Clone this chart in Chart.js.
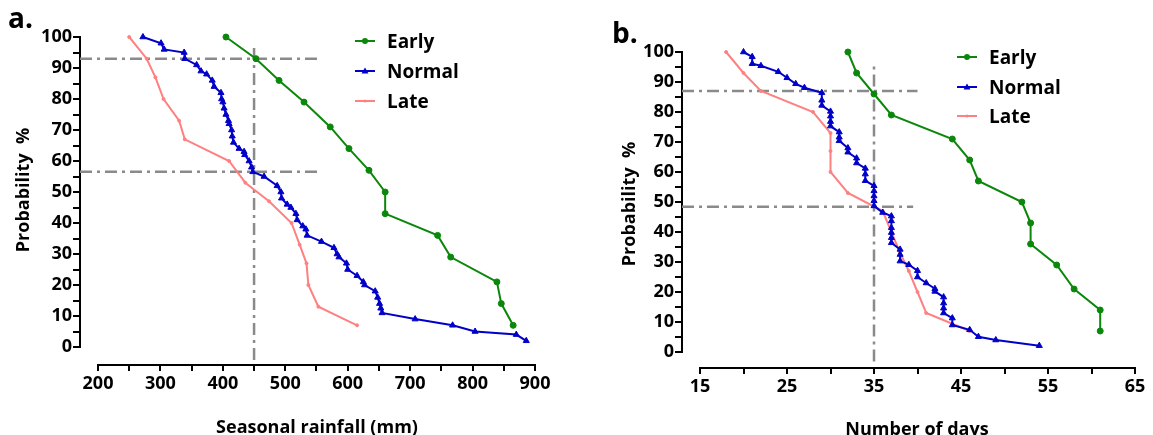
<!DOCTYPE html>
<html>
<head>
<meta charset="utf-8">
<script src="https://cdn.jsdelivr.net/npm/chart.js@4.4.0/dist/chart.umd.min.js"></script>
<style>
  body { margin: 0; background: #fff; width: 1153px; height: 435px; position: relative; overflow: hidden;
         font-family: 'Open Sans', sans-serif; font-weight: bold; color: #000; }
  canvas { position: absolute; top: 0; }
  .txt { position: absolute; white-space: pre; line-height: 1; }
  .rot { transform: translate(-50%, -50%) rotate(-90deg); }
  .leg { position: absolute; display: flex; align-items: center; font-size: 19px; line-height: 1; }
  .leg svg { margin-right: 12px; }
</style>
</head>
<body>
<canvas id="chartA" width="580" height="435" style="left:0"></canvas>
<canvas id="chartB" width="573" height="435" style="left:580px"></canvas>

<div class="txt" style="left:8px;top:3px;font-size:28px">a.</div>
<div class="txt" style="left:612px;top:18px;font-size:28px">b.</div>
<div class="txt rot" style="left:22px;top:190px;font-size:18px">Probability  %</div>
<div class="txt rot" style="left:628px;top:204px;font-size:18px">Probability  %</div>
<div class="txt" style="left:317px;top:417px;font-size:18px;transform:translateX(-50%)">Seasonal rainfall (mm)</div>
<div class="txt" style="left:917px;top:419px;font-size:18px;transform:translateX(-50%)">Number of days</div>

<div id="legA"></div>
<div id="legB"></div>

<script>
// panel a: seasonal rainfall (mm) vs probability (%)
var earlyRain = [405, 453, 490, 530, 572, 602, 634, 660, 660, 744, 765, 839, 846, 865];
var earlyProb = [100, 93, 86, 79, 71, 64, 57, 50, 43, 36, 29, 21, 14, 7];
var normalRain = [272, 301, 306, 338, 339, 358, 365, 374, 383, 386, 397, 398, 400, 402, 405,
                  409, 410, 414, 415, 417, 426, 434, 435, 442, 446, 448, 466, 487, 493, 494,
                  503, 509, 517, 519, 528, 533, 535, 558, 578, 583, 586, 598, 600, 615, 625,
                  627, 644, 648, 651, 653, 655, 708, 768, 804, 870, 886];
var normalProbA = [100, 98, 96, 95, 93, 91, 89, 88, 86, 84, 82, 80, 79, 77, 75,
                   73, 72, 70, 68, 66, 64, 63, 62, 60, 58, 56.5, 55, 52, 50, 48,
                   46, 45, 43, 41, 39, 38, 36, 34, 32, 30, 29, 27, 25, 23, 21,
                   20, 18, 16, 14, 12.5, 11, 9, 7, 5, 4, 2];
var lateRain = [250, 278, 292, 305, 330, 339, 410, 436, 474, 510, 523, 534, 537, 553, 615];
var lateProb = [100, 93, 87, 80, 73, 67, 60, 53, 47, 40, 33, 27, 20, 13, 7];

// panel b: number of days vs probability (%)
var earlyDays = [32, 33, 35, 37, 44, 46, 47, 52, 53, 53, 56, 58, 61, 61];
var normalDays = [20, 21, 21, 22, 24, 25, 26, 27, 29, 29, 29, 30, 30, 30, 30,
                  31, 31, 31, 32, 32, 33, 33, 34, 34, 34, 35, 35, 35, 35, 35,
                  36, 37, 37, 37, 37, 37, 37, 38, 38, 38, 39, 40, 40, 41, 42,
                  42, 43, 43, 43, 43, 44, 44, 46, 47, 49, 54];
var normalProbB = [100, 98.4, 96.1, 95.4, 93.4, 91.4, 89.4, 88.1, 86.4, 83.9, 82.2, 80.2, 78.6, 76.8, 75.3,
                   73.3, 71.6, 70.4, 68, 66.6, 64.6, 63, 61.2, 59.3, 57.1, 55.4, 53.7, 52, 50.4, 48.7,
                   46.5, 45.3, 43.7, 41.4, 39.8, 38.1, 36.4, 34.2, 32.5, 30.3, 29.1, 27.1, 25, 23, 21.1,
                   20.2, 18.3, 16.3, 14.6, 13, 11.3, 9, 7.4, 5.1, 4, 2.1];
var lateDays = [18, 20, 22, 28, 30, 30, 30, 32, 36, 37, 38, 39, 40, 41, 46];

// reference (dash-dot) lines
var refRainA = 450, refProbA = [93, 56.5], refEndA = [551, 551];
var refDaysB = 35, refProbB = [87, 48.4], refEndB = [40, 39.5];

// ticks
var yTickVals = [0, 5, 10, 15, 20, 25, 30, 35, 40, 45, 50, 55, 60, 65, 70, 75, 80, 85, 90, 95, 100];
var yTickLabels = [0, 10, 20, 30, 40, 50, 60, 70, 80, 90, 100];
var xTickValsA = [200, 250, 300, 350, 400, 450, 500, 550, 600, 650, 700, 750, 800, 850, 900];
var xTickLabelsA = [200, 300, 400, 500, 600, 700, 800, 900];
var xTickValsB = [15, 20, 25, 30, 35, 40, 45, 50, 55, 60, 65];
var xTickLabelsB = [15, 25, 35, 45, 55, 65];

var GREEN = '#0b870b', BLUE = '#0000c8', PINK = '#ff8080', REF = '#8a8a8a';

Chart.defaults.font.family = "'Open Sans', sans-serif";
Chart.defaults.font.weight = 'bold';
Chart.defaults.color = '#000';

function pts(xs, ys) {
  return xs.map(function (v, i) { return { x: v, y: ys[i] }; });
}

function series(data, color, style, radius, order) {
  return {
    data: data, borderColor: color, backgroundColor: color, borderWidth: 2,
    pointStyle: style, pointRadius: radius, pointBorderWidth: 1, tension: 0,
    clip: false, order: order
  };
}

function refLine(data) {
  return {
    data: data, borderColor: REF, borderWidth: 2.5, borderDash: [12, 5, 3, 5],
    pointRadius: 0, tension: 0, clip: false, order: 10
  };
}

// axis lines drawn with a gap at the corner
var axisLines = {
  id: 'axisLines',
  beforeDatasetsDraw: function (chart, args, o) {
    var ctx = chart.ctx, x = chart.scales.x, y = chart.scales.y, a = chart.chartArea;
    ctx.save();
    ctx.strokeStyle = '#000';
    ctx.lineWidth = 2;
    ctx.beginPath();
    ctx.moveTo(a.left, y.getPixelForValue(100) - 1);
    ctx.lineTo(a.left, y.getPixelForValue(0) + 1);
    ctx.moveTo(x.getPixelForValue(o.xFrom) - 1, a.bottom);
    ctx.lineTo(x.getPixelForValue(o.xTo) + 1, a.bottom);
    ctx.stroke();
    ctx.restore();
  }
};

function makeChart(id, datasets, p) {
  return new Chart(document.getElementById(id), {
    type: 'line',
    data: { datasets: datasets },
    plugins: [axisLines],
    options: {
      responsive: false, animation: false, devicePixelRatio: 1,
      layout: { padding: { left: 0, right: p.padRight, top: p.padTop, bottom: 0 } },
      plugins: { legend: { display: false }, tooltip: { enabled: false }, axisLines: { xFrom: p.xTicks[0], xTo: p.xTicks[p.xTicks.length - 1] } },
      scales: {
        x: {
          type: 'linear', min: p.xMin, max: p.xMax,
          afterBuildTicks: function (s) { s.ticks = p.xTicks.map(function (v) { return { value: v }; }); },
          afterFit: function (s) { s.height = p.xHeight; },
          ticks: { autoSkip: false, maxRotation: 0, padding: 2, font: { size: 18 },
                   callback: function (v) { return p.xLabels.indexOf(v) >= 0 ? v : ''; } },
          grid: { drawOnChartArea: false, tickLength: 6, color: '#000', lineWidth: 2 },
          border: { display: false }
        },
        y: {
          type: 'linear', min: p.yMin, max: 100,
          afterBuildTicks: function (s) { s.ticks = yTickVals.map(function (v) { return { value: v }; }); },
          afterFit: function (s) { s.width = p.yWidth; },
          ticks: { autoSkip: false, padding: 1, font: { size: 18 },
                   callback: function (v) { return yTickLabels.indexOf(v) >= 0 ? v : ''; } },
          grid: { drawOnChartArea: false, tickLength: 7, color: '#000', lineWidth: 2 },
          border: { display: false }
        }
      }
    }
  });
}

makeChart('chartA', [
  refLine([{ x: 171.17, y: refProbA[0] }, { x: refEndA[0], y: refProbA[0] }]),
  refLine([{ x: 171.17, y: refProbA[1] }, { x: refEndA[1], y: refProbA[1] }]),
  refLine([{ x: refRainA, y: -4.2 }, { x: refRainA, y: 96.9 }]),
  series(pts(earlyRain, earlyProb), GREEN, 'circle', 3, 3),
  series(pts(normalRain, normalProbA), BLUE, 'triangle', 3.5, 1),
  series(pts(lateRain, lateProb), PINK, 'circle', 1.5, 2)
], { xMin: 171.17, xMax: 900, yMin: -5.806, xTicks: xTickValsA, xLabels: xTickLabelsA,
     padRight: 45, padTop: 37, xHeight: 70, yWidth: 80 });

makeChart('chartB', [
  refLine([{ x: 12.93, y: refProbB[0] }, { x: refEndB[0], y: refProbB[0] }]),
  refLine([{ x: 12.93, y: refProbB[1] }, { x: refEndB[1], y: refProbB[1] }]),
  refLine([{ x: refDaysB, y: -3.2 }, { x: refDaysB, y: 95.6 }]),
  series(pts(earlyDays, earlyProb), GREEN, 'circle', 3, 3),
  series(pts(normalDays, normalProbB), BLUE, 'triangle', 3.5, 1),
  series(pts(lateDays, lateProb), PINK, 'circle', 1.5, 2)
], { xMin: 12.93, xMax: 65, yMin: -5.333, xTicks: xTickValsB, xLabels: xTickLabelsB,
     padRight: 18, padTop: 52, xHeight: 67, yWidth: 102 });

// legends
var legendItems = [
  { name: 'Early', color: GREEN, marker: '<circle cx="10" cy="6" r="3"/>' },
  { name: 'Normal', color: BLUE, marker: '<polygon points="10,2.5 13.5,8.5 6.5,8.5"/>' },
  { name: 'Late', color: PINK, marker: '<circle cx="10" cy="6" r="1.5"/>' }
];
function legend(id, left, tops) {
  var host = document.getElementById(id);
  legendItems.forEach(function (it, i) {
    var d = document.createElement('div');
    d.className = 'leg';
    d.style.left = left + 'px';
    d.style.top = (tops[i] - 10) + 'px';
    d.style.height = '20px';
    d.innerHTML = '<svg width="20" height="12" fill="' + it.color + '"><line x1="0" y1="6" x2="20" y2="6" stroke="' +
      it.color + '" stroke-width="2"/>' + it.marker + '</svg><span>' + it.name + '</span>';
    host.appendChild(d);
  });
}
legend('legA', 355, [41, 71, 101]);
legend('legB', 957, [57, 87, 116]);
</script>
</body>
</html>
